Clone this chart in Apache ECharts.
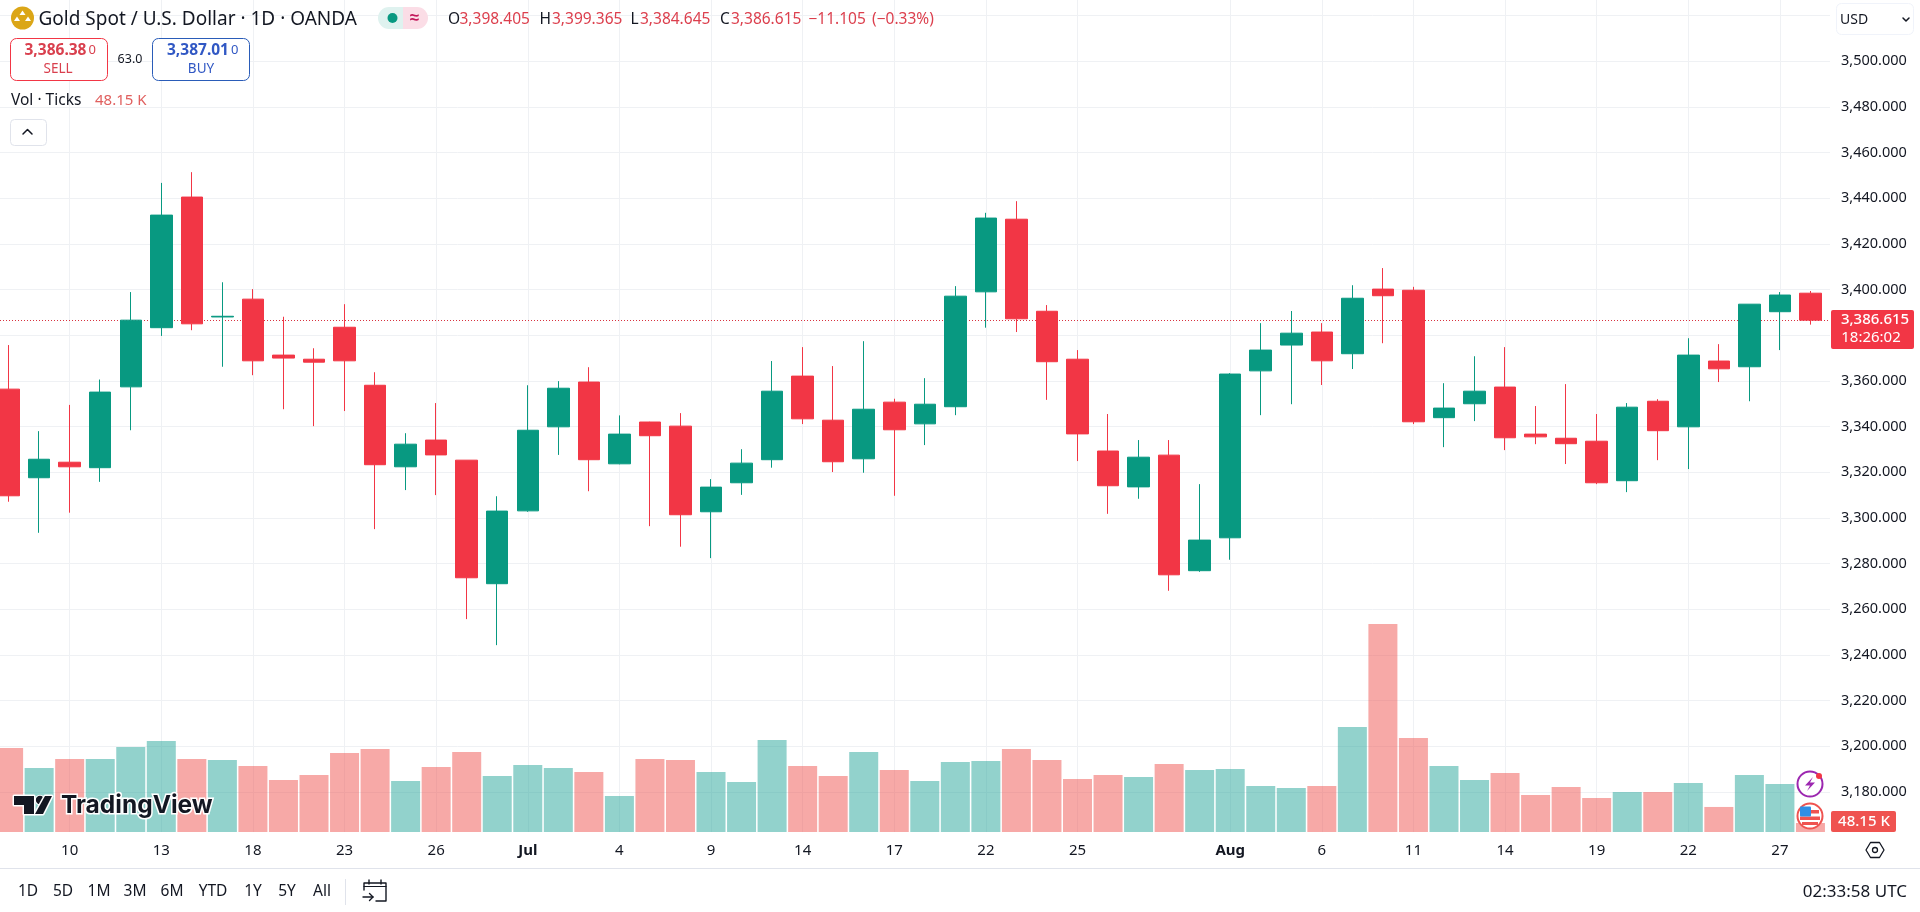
<!DOCTYPE html>
<html><head><meta charset="utf-8"><style>html,body{margin:0;padding:0;background:#fff}#c{width:1920px;height:912px}</style>
<script src="https://cdn.jsdelivr.net/npm/echarts@6/dist/echarts.min.js"></script></head>
<body><div id="c"></div><script>
const categories=['2025-06-06','2025-06-09','2025-06-10','2025-06-11','2025-06-12','2025-06-13','2025-06-16','2025-06-17','2025-06-18','2025-06-19','2025-06-20','2025-06-23','2025-06-24','2025-06-25','2025-06-26','2025-06-27','2025-06-30','2025-07-01','2025-07-02','2025-07-03','2025-07-04','2025-07-07','2025-07-08','2025-07-09','2025-07-10','2025-07-11','2025-07-14','2025-07-15','2025-07-16','2025-07-17','2025-07-18','2025-07-21','2025-07-22','2025-07-23','2025-07-24','2025-07-25','2025-07-28','2025-07-29','2025-07-30','2025-07-31','2025-08-01','2025-08-04','2025-08-05','2025-08-06','2025-08-07','2025-08-08','2025-08-11','2025-08-12','2025-08-13','2025-08-14','2025-08-15','2025-08-18','2025-08-19','2025-08-20','2025-08-21','2025-08-22','2025-08-25','2025-08-26','2025-08-27','2025-08-28'];
const opens=[3356.4,3317.6,3324.4,3322.0,3357.4,3383.3,3440.5,3388.0,3395.8,3371.3,3369.5,3383.5,3358.1,3322.4,3334.1,3325.3,3271.2,3303.1,3339.9,3359.5,3323.7,3342.0,3340.2,3302.7,3315.4,3325.5,3362.1,3342.8,3325.9,3350.7,3341.2,3348.7,3399.0,3430.8,3390.5,3369.5,3329.3,3313.6,3327.5,3276.9,3291.3,3364.4,3375.7,3381.4,3371.9,3400.2,3399.7,3343.9,3350.0,3357.3,3336.7,3334.9,3333.6,3316.3,3351.1,3339.9,3368.7,3366.2,3390.3,3398.405];
const closes=[3309.7,3325.7,3322.4,3355.1,3386.6,3432.6,3385.0,3388.3,3368.8,3370.0,3368.2,3368.8,3323.3,3332.3,3327.6,3273.8,3303.0,3338.4,3356.8,3325.5,3336.7,3336.0,3301.4,3313.5,3324.0,3355.5,3343.4,3324.6,3347.6,3338.6,3349.8,3397.1,3431.3,3387.2,3368.4,3336.8,3314.1,3326.6,3275.1,3290.3,3363.0,3373.5,3380.9,3368.8,3396.2,3397.3,3342.1,3348.1,3355.5,3335.1,3335.5,3332.5,3315.4,3348.5,3338.2,3371.3,3365.3,3393.6,3397.6,3386.615];
const lows=[3307.1,3293.5,3302.3,3315.8,3338.4,3379.7,3382.2,3366.2,3362.5,3347.6,3340.2,3346.8,3295.1,3312.2,3310.0,3255.7,3244.3,3302.7,3327.6,3311.7,3323.5,3296.4,3287.4,3282.4,3310.1,3322.0,3341.1,3320.1,3319.8,3309.7,3331.9,3345.0,3383.3,3381.4,3351.7,3324.9,3301.8,3308.4,3268.1,3276.4,3281.7,3345.0,3349.8,3358.2,3365.2,3376.5,3341.1,3331.0,3342.4,3329.7,3332.3,3323.6,3314.8,3311.3,3325.3,3321.4,3359.5,3351.1,3373.5,3384.645];
const highs=[3375.7,3338.0,3349.5,3360.6,3398.9,3446.7,3451.4,3403.2,3400.2,3388.1,3374.3,3393.6,3363.8,3337.1,3350.3,3325.3,3309.5,3358.1,3359.9,3366.0,3344.9,3342.1,3345.9,3317.0,3330.1,3368.7,3374.8,3366.5,3377.4,3352.2,3361.2,3401.5,3433.6,3438.7,3393.2,3373.5,3345.5,3334.1,3334.1,3314.8,3363.4,3385.3,3390.6,3385.3,3401.9,3409.4,3401.2,3359.0,3370.8,3374.8,3349.0,3358.6,3345.5,3350.3,3352.0,3378.7,3376.1,3393.6,3398.9,3399.365];
const volumesK=[449,342,391,391,455,487,391,385,353,278,305,423,444,273,348,428,300,358,342,321,193,391,385,321,268,492,353,300,428,332,273,375,380,444,385,284,305,294,364,332,337,246,235,246,562,1113,503,353,278,316,198,241,182,214,214,262,134,305,257,48.15];
const tickLabels={'2025-06-10':'10','2025-06-13':'13','2025-06-18':'18','2025-06-23':'23','2025-06-26':'26','2025-07-01':'Jul','2025-07-04':'4','2025-07-09':'9','2025-07-14':'14','2025-07-17':'17','2025-07-22':'22','2025-07-25':'25','2025-08-01':'Aug','2025-08-06':'6','2025-08-11':'11','2025-08-14':'14','2025-08-19':'19','2025-08-22':'22','2025-08-27':'27'};
const lastPrice=3386.615;
const rangeButtons=[['1D',28],['5D',63],['1M',99],['3M',135],['6M',172],['YTD',213],['1Y',253],['5Y',287],['All',322]];

const UP='#089981',DOWN='#f23645',VUP='rgba(38,166,154,0.5)',VDOWN='rgba(239,83,80,0.5)',INK='#131722',GRID='#eff1f4',LINE='#e0e3eb';
const FONT='"Noto Sans",sans-serif';
const f=(s,w)=>(w?w+' ':'')+s+'px '+FONT;
const isTick=(i)=>tickLabels[categories[i]]!==undefined;
const fmt=(v)=>v.toLocaleString('en-US',{minimumFractionDigits:3,maximumFractionDigits:3});

const g=[];
const T=(x,y,text,font,fill,align,extra)=>g.push({type:'text',x,y,z:50,style:Object.assign({text,font,fill,textAlign:align||'left',textVerticalAlign:'middle'},extra||{})});
const R=(x,y,w,h,r,fill,stroke,lw)=>g.push({type:'rect',z:40,shape:{x,y,width:w,height:h,r:r||0},style:{fill:fill||'transparent',stroke:stroke||null,lineWidth:lw||1}});
const C=(cx,cy,r,fill,stroke,lw)=>g.push({type:'circle',z:45,shape:{cx,cy,r},style:{fill:fill||'transparent',stroke:stroke||null,lineWidth:lw||1}});
const P=(pts,fill,stroke,lw,z)=>g.push({type:'polygon',z:z||46,shape:{points:pts},style:{fill:fill||'transparent',stroke:stroke||null,lineWidth:lw||1,lineJoin:'round'}});
const L=(pts,stroke,lw)=>g.push({type:'polyline',z:46,shape:{points:pts},style:{fill:null,stroke,lineWidth:lw||1.5,lineCap:'round',lineJoin:'round'}});

// header
C(22.5,18,11.5,'#dba617');
P([[22.5,10.5],[25.5,15],[19.5,15]],'#fff');P([[17,16.5],[20,21],[14,21]],'#fff');P([[28,16.5],[31,21],[25,21]],'#fff');
T(38.5,20,'Gold Spot / U.S. Dollar · 1D · OANDA',f(19),INK);
R(378,7,25,22,0,'#dff2ef');R(403,7,25,22,0,'#fbdde6');
g[g.length-2].shape.r=[11,0,0,11];g[g.length-1].shape.r=[0,11,11,0];
C(392.5,18,5,'#089981');
T(414.5,18,'≈',f(17,'bold'),'#c2185b','center');
const red='#dc3f4d';
[['O',448,'3,398.405',459.5],['H',539.5,'3,399.365',552],['L',630.5,'3,384.645',640],['C',720,'3,386.615',731]].forEach(a=>{T(a[1],20,a[0],f(15.5),INK);T(a[3],20,a[2],f(15.5),red);});
T(808.5,20,'−11.105',f(15.5),red);T(872,20,'(−0.33%)',f(15.5),red);
// sell/buy
R(10.5,38.5,97,42,6,'#fff','#f23645',1);
T(24.5,51,'3,386.38',f(15.5,'bold'),'#d9404e');T(88.5,50,'0',f(13),'#d9404e');
T(58,69,'SELL',f(13.5),'#d9404e','center');
T(130,59,'63.0',f(12.5),INK,'center');
R(152.5,38.5,97,42,6,'#fff','#2a5cb8',1);
T(167,51,'3,387.01',f(15.5,'bold'),'#3158c4');T(231,50,'0',f(13),'#3158c4');
T(201,69,'BUY',f(13.5),'#3158c4','center');
T(11,101,'Vol · Ticks',f(15.5),INK);T(95,101,'48.15 K',f(15),'#e0605f');
R(10.5,119.5,36,26,4,'#fff',LINE,1);
L([[23,134],[27.5,129.5],[32,134]],INK,1.5);
// USD
R(1836.5,3.5,77,31,5,'#fff','#f0f3fa',1);
T(1840,20,'USD',f(14),INK);
L([[1903,18],[1906,21],[1909,18]],INK,1.5);
// price tag
R(1831,310,83,39,2,DOWN);
T(1875,320,'3,386.615',f(15,'500'),'#fff','center');T(1871,338,'18:26:02',f(15),'#fff','center');
// volume tag
R(1831,811,65,21,2,'#ef5350');
T(1864,822,'48.15 K',f(15,'500'),'#fff','center');
// icons
C(1810,784,12.5,'#fff','#9c27b0',2);
P([[1813,777],[1805,785.5],[1810,785.5],[1807,791],[1815,782.5],[1810,782.5]],'#9c27b0');
C(1819,776,3,'#f23645');
g[g.length-1].z=47;
C(1810,816,12.5,'#fff','#ef5350',2);
R(1800,810,19,3.5,0,'#ef5350');R(1800,816.5,20,3.5,0,'#ef5350');R(1802,822,16,3,0,'#ef5350');
R(1800,806.5,11,10,1,'#2f8fe6');
g.slice(-4).forEach(o=>o.z=47);
P([[1866,850],[1870.5,842.5],[1879.5,842.5],[1884,850],[1879.5,857.5],[1870.5,857.5]],'#fff',INK,1.3,44);
C(1875,850,2.5,'#fff',INK,1.3);
// footer
g.push({type:'line',z:40,shape:{x1:0,y1:868.5,x2:1920,y2:868.5},style:{stroke:LINE,lineWidth:1}});
rangeButtons.forEach(b=>T(b[1],892,b[0],f(15.5),INK,'center'));
g.push({type:'line',z:40,shape:{x1:345.5,y1:879,x2:345.5,y2:905},style:{stroke:LINE,lineWidth:1}});
L([[364,890],[364,883],[386,883],[386,901],[376,901]],INK,1.4);L([[364,886.5],[386,886.5]],INK,1.2);
L([[369,880],[369,884]],INK,1.4);L([[381,880],[381,884]],INK,1.4);
L([[363,897],[373,897]],INK,1.4);L([[369.5,893.5],[373,897],[369.5,900.5]],INK,1.4);
T(1907,892,'02:33:58 UTC',f(17),INK,'right');
// watermark
P([[14,796],[34,796],[34,814],[24,814],[24,805],[14,805]],'#131722','#fff',3);
C(40,800,4.2,'#131722','#fff',2);
P([[45,796],[52,796],[43,814],[35,814]],'#131722','#fff',3);
P([[14,796],[34,796],[34,814],[24,814],[24,805],[14,805]],'#131722');
C(40,800,4.2,'#131722');
P([[45,796],[52,796],[43,814],[35,814]],'#131722');
T(61,806,'TradingView',f(24.5,'bold').replace('"Noto Sans"','Inter'),'#131722','left',{stroke:'#fff',lineWidth:3});

const left=-6.67,width=1832.4;
const hiddenX=(gi)=>({type:'category',gridIndex:gi,data:categories,show:false,boundaryGap:true});
const chart=echarts.init(document.getElementById('c'));
chart.setOption({
 animation:false,backgroundColor:'#fff',textStyle:{fontFamily:FONT},
 grid:[
  {left,width,top:0,height:832,outerBoundsMode:'none'},
  {left,width,top:15.5,height:776.5,outerBoundsMode:'none'},
  {left:0,width:1830,top:15.5,height:776.5,outerBoundsMode:'none'}
 ],
 xAxis:[
  {type:'category',gridIndex:0,data:categories,boundaryGap:true,
   axisLine:{show:false},axisTick:{show:false},
   splitLine:{show:true,alignWithLabel:true,interval:(i)=>isTick(i),lineStyle:{color:GRID,width:1}},
   axisLabel:{interval:(i)=>isTick(i),margin:11,hideOverlap:false,fontSize:15,color:INK,
     formatter:(v)=>{const s=tickLabels[v]||'';return (s==='Jul'||s==='Aug')?'{b|'+s+'}':s;},
     rich:{b:{fontWeight:'bold',fontSize:15,color:INK}}}},
  hiddenX(1),hiddenX(2)
 ],
 yAxis:[
  {type:'value',gridIndex:0,min:0,max:4451,show:false},
  {type:'value',gridIndex:1,min:3180,max:3520,interval:20,show:false,splitLine:{show:false}},
  {type:'value',gridIndex:2,position:'right',min:3180,max:3520,interval:20,
   axisLine:{show:false},axisTick:{show:false},
   splitLine:{show:true,lineStyle:{color:GRID,width:1}},
   axisLabel:{margin:11,fontSize:14.5,color:INK,formatter:(v)=>v>=3520?'':fmt(v)}}
 ],
 series:[
  {type:'bar',xAxisIndex:0,yAxisIndex:0,barWidth:29,silent:true,z:3,
   data:volumesK.map((v,i)=>({value:v,itemStyle:{color:closes[i]>=opens[i]?VUP:VDOWN}}))},
  {type:'line',xAxisIndex:2,yAxisIndex:2,data:[],silent:true,z:4,
   markLine:{silent:true,symbol:'none',animation:false,label:{show:false},
     lineStyle:{color:'#d8323f',width:1,type:[1,2]},data:[{yAxis:lastPrice}]}},
  {type:'candlestick',xAxisIndex:1,yAxisIndex:1,barWidth:22,silent:true,z:5,
   itemStyle:{color:UP,color0:DOWN,borderColor:UP,borderColor0:DOWN,borderWidth:1},
   data:categories.map((c,i)=>[opens[i],closes[i],lows[i],highs[i]])}
 ],
 graphic:g
});
</script></body></html>
